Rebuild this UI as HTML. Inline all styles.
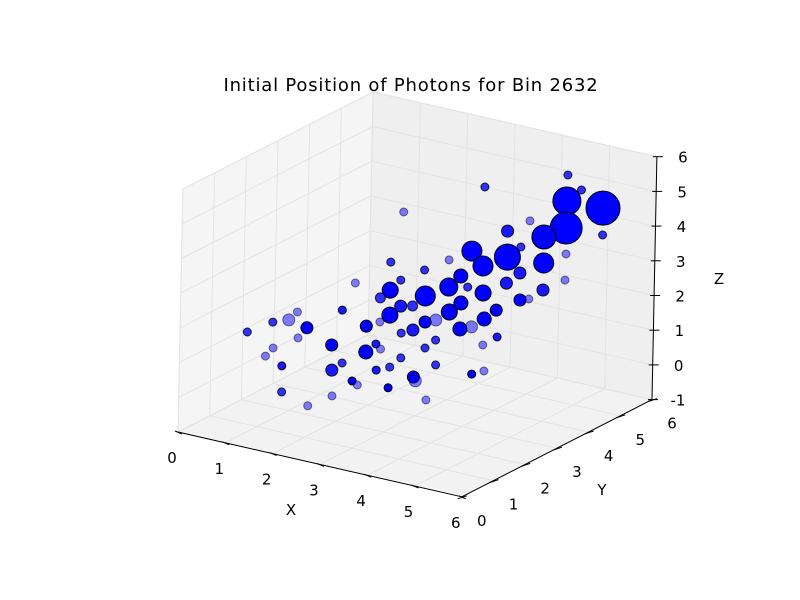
<!DOCTYPE html>
<html><head><meta charset="utf-8"><style>
html,body{margin:0;padding:0;background:#fff}
svg{display:block;font-family:"DejaVu Sans","Liberation Sans",sans-serif}
</style></head><body>
<svg id="chart" width="800" height="600" viewBox="0 0 800 600">
<rect width="800" height="600" fill="#fff"/>
<text x="411" y="91" font-size="18" letter-spacing="0.8" text-anchor="middle">Initial Position of Photons for Bin 2632</text>
<g id="panes"></g>
<g id="grid"></g>
<g id="axes"></g>
<g id="points"></g>
<text x="291" y="515" font-size="15" text-anchor="middle">X</text>
<text x="602" y="495" font-size="15" text-anchor="middle">Y</text>
<text x="719" y="284" font-size="15" text-anchor="middle">Z</text>
</svg>
<script>
const xTicks = [0,1,2,3,4,5,6];
const yTicks = [0,1,2,3,4,5,6];
const zTicks = [-1,0,1,2,3,4,5,6];
const xs = [4.24,3.37,2.90,4.87,4.97,5.70,5.00,3.49,4.19,5.73,4.99,3.54,4.23,4.14,5.00,2.67,3.46,4.13,4.93,3.39,4.09,4.87,3.33,1.99,4.23,4.51,4.96,5.73,2.75,2.07,2.67,3.43,4.22,2.77,2.60,3.39,4.17,3.48,4.11,1.86,1.26,2.70,3.51,3.41,4.19,4.27,1.19,1.36,1.85,2.67,3.46,4.12,4.23,1.10,2.01,2.75,3.38,2.61,3.42,1.23,0.46,1.85,2.06,1.93,3.44,0.58,2.68,1.90,2.61,1.10,3.32,2.71,1.95,2.60,4.11,4.20,3.34,3.48,2.56,2.75,3.28,1.84,2.69,4.18,2.62];
const ys = [5.84,4.52,2.66,5.33,4.72,4.77,3.51,5.09,5.19,3.56,5.85,3.89,3.98,4.54,4.68,2.63,3.29,3.36,4.08,2.62,2.72,3.42,1.96,3.66,2.13,2.31,2.86,3.56,1.39,3.23,3.75,4.44,5.15,3.20,3.08,3.80,4.50,3.30,3.84,2.34,1.82,2.59,2.83,2.64,3.34,4.63,1.15,1.40,1.24,1.89,2.18,2.68,2.88,0.48,0.72,2.20,1.93,4.20,4.93,2.98,2.28,3.45,3.28,3.01,4.45,1.86,3.76,2.31,3.10,1.60,3.14,2.60,1.91,2.34,3.10,3.35,2.41,2.26,1.64,1.52,1.70,0.49,0.81,1.55,0.15];
const zs = [5,5,5,5,5,5,5,3.5,3.5,5,3.5,3.5,3.5,3.5,3.5,3.5,3.5,3.5,3.5,3.5,3.5,3.5,3.5,2,3.5,3.5,3.5,3.5,3.5,2,2,2,2,2,2,2,2,2,2,2,2,2,2,2,2,2,2,2,2,2,2,2,2,2,2,2,2,0.5,0.5,0.5,0.5,0.5,0.5,0.5,0.5,0.5,0.5,0.5,0.5,0.5,0.5,0.5,0.5,0.5,0.5,0.5,0.5,0.5,0.5,0.5,0.5,0.5,0.5,0.5,0.5];
const sizes = [16,16,16,16,196,289,16,36,144,256,16,100,169,16,16,16,16,100,100,16,49,36,16,64,81,16,36,16,16,25,100,64,36,25,36,49,36,64,36,16,16,64,36,36,49,16,16,36,36,36,36,49,36,16,16,16,16,16,16,36,16,16,16,49,16,16,16,16,16,16,16,16,36,16,16,16,36,36,16,16,16,16,16,16,16];
const shades = [.8,.8,.5,.8,1,1,.5,.9,1,1,.8,1,1,.8,.5,.8,.5,1,1,.8,1,.9,.8,1,1,.8,.9,.5,.5,.8,1,1,.9,.8,.9,1,1,1,1,.9,.5,1,.5,1,1,.5,.8,.5,1,1,.9,1,.5,.8,.5,.5,.8,.8,.9,1,.5,.9,.5,1,.5,.5,.8,.8,.8,.9,.8,.8,.9,.9,1,.5,1,.5,1,.5,1,.8,.5,.5,.5];

const NS = "http://www.w3.org/2000/svg";
const O = [178,432], EX = [47.3,10.8], EY = [31.7,-16.2], EZ = [0.7,-34.7];
function P(x,y,z){ return [O[0]+x*EX[0]+y*EY[0]+(z+1)*EZ[0], O[1]+x*EX[1]+y*EY[1]+(z+1)*EZ[1]]; }
function mk(tag, attrs, parent){ const e=document.createElementNS(NS,tag); for(const k in attrs) e.setAttribute(k,attrs[k]); parent.appendChild(e); return e; }
function poly(pts){ return pts.map(p=>p[0].toFixed(1)+","+p[1].toFixed(1)).join(" "); }
const panes=document.getElementById('panes'), grid=document.getElementById('grid'), axes=document.getElementById('axes'), pts=document.getElementById('points');
const X0=xTicks[0], X1=xTicks[xTicks.length-1], Y0=yTicks[0], Y1=yTicks[yTicks.length-1], Z0=zTicks[0], Z1=zTicks[zTicks.length-1];

let e;
e=mk('polygon',{points:poly([P(X0,Y0,Z0),P(X0,Y1,Z0),P(X0,Y1,Z1),P(X0,Y0,Z1)]),fill:'#f5f5f5',stroke:'#ececec'},panes);
 
e=mk('polygon',{points:poly([P(X0,Y1,Z0),P(X1,Y1,Z0),P(X1,Y1,Z1),P(X0,Y1,Z1)]),fill:'#efefef',stroke:'#e6e6e6'},panes);
 
e=mk('polygon',{points:poly([P(X0,Y0,Z0),P(X1,Y0,Z0),P(X1,Y1,Z0),P(X0,Y1,Z0)]),fill:'#f2f2f2',stroke:'#e6e6e6'},panes);
 

function gl(a,b){ const l=mk('line',{x1:a[0],y1:a[1],x2:b[0],y2:b[1],stroke:'#e3e3e3','stroke-width':1},grid);
    }
xTicks.forEach(t=>{ gl(P(t,Y0,Z0),P(t,Y1,Z0)); gl(P(t,Y1,Z0),P(t,Y1,Z1)); });
yTicks.forEach(t=>{ gl(P(X0,t,Z0),P(X1,t,Z0)); gl(P(X0,t,Z0),P(X0,t,Z1)); });
zTicks.forEach(t=>{ gl(P(X0,Y0,t),P(X0,Y1,t)); gl(P(X0,Y1,t),P(X1,Y1,t)); });

function al(a,b,name){ const l=mk('line',{x1:a[0],y1:a[1],x2:b[0],y2:b[1],stroke:'#000','stroke-width':1},axes);
    }
al(P(X0,Y0,Z0),P(X1,Y0,Z0),'x-axis-line');
al(P(X1,Y0,Z0),P(X1,Y1,Z0),'y-axis-line');
al(P(X1,Y1,Z0),P(X1,Y1,Z1),'z-axis-line');
function lbl(x,y,s,name){ const t=mk('text',{x:x,y:y,'font-size':15,'text-anchor':'middle'},axes); t.textContent=s;
    }
xTicks.forEach(t=>{ const p=P(t,Y0,Z0); al([p[0]-3,p[1]-1],[p[0]+4,p[1]+2],'x-tick'); lbl(p[0]-6,p[1]+31,String(t),'x-tick-label'); });
yTicks.forEach(t=>{ const p=P(X1,t,Z0); al([p[0]-4,p[1]+2],[p[0]+5,p[1]-1],'y-tick'); lbl(p[0]+20,p[1]+29,String(t),'y-tick-label'); });
zTicks.forEach(t=>{ const p=P(X1,Y1,t); al([p[0]-4,p[1]],[p[0]+6,p[1]],'z-tick'); lbl(p[0]+26,p[1]+6,String(t),'z-tick-label'); });

const order = xs.map((_,i)=>i).sort((a,b)=>P(xs[a],ys[a],zs[a])[1]-P(xs[b],ys[b],zs[b])[1]);
order.forEach(i=>{
  const p=P(xs[i],ys[i],zs[i]);
  const c=mk('circle',{cx:p[0].toFixed(1),cy:p[1].toFixed(1),r:Math.sqrt(sizes[i]).toFixed(1),fill:'#0000ff','fill-opacity':shades[i],stroke:'#000','stroke-opacity':shades[i],'stroke-width':1},pts);
  
  
});
</script>
</body></html>
